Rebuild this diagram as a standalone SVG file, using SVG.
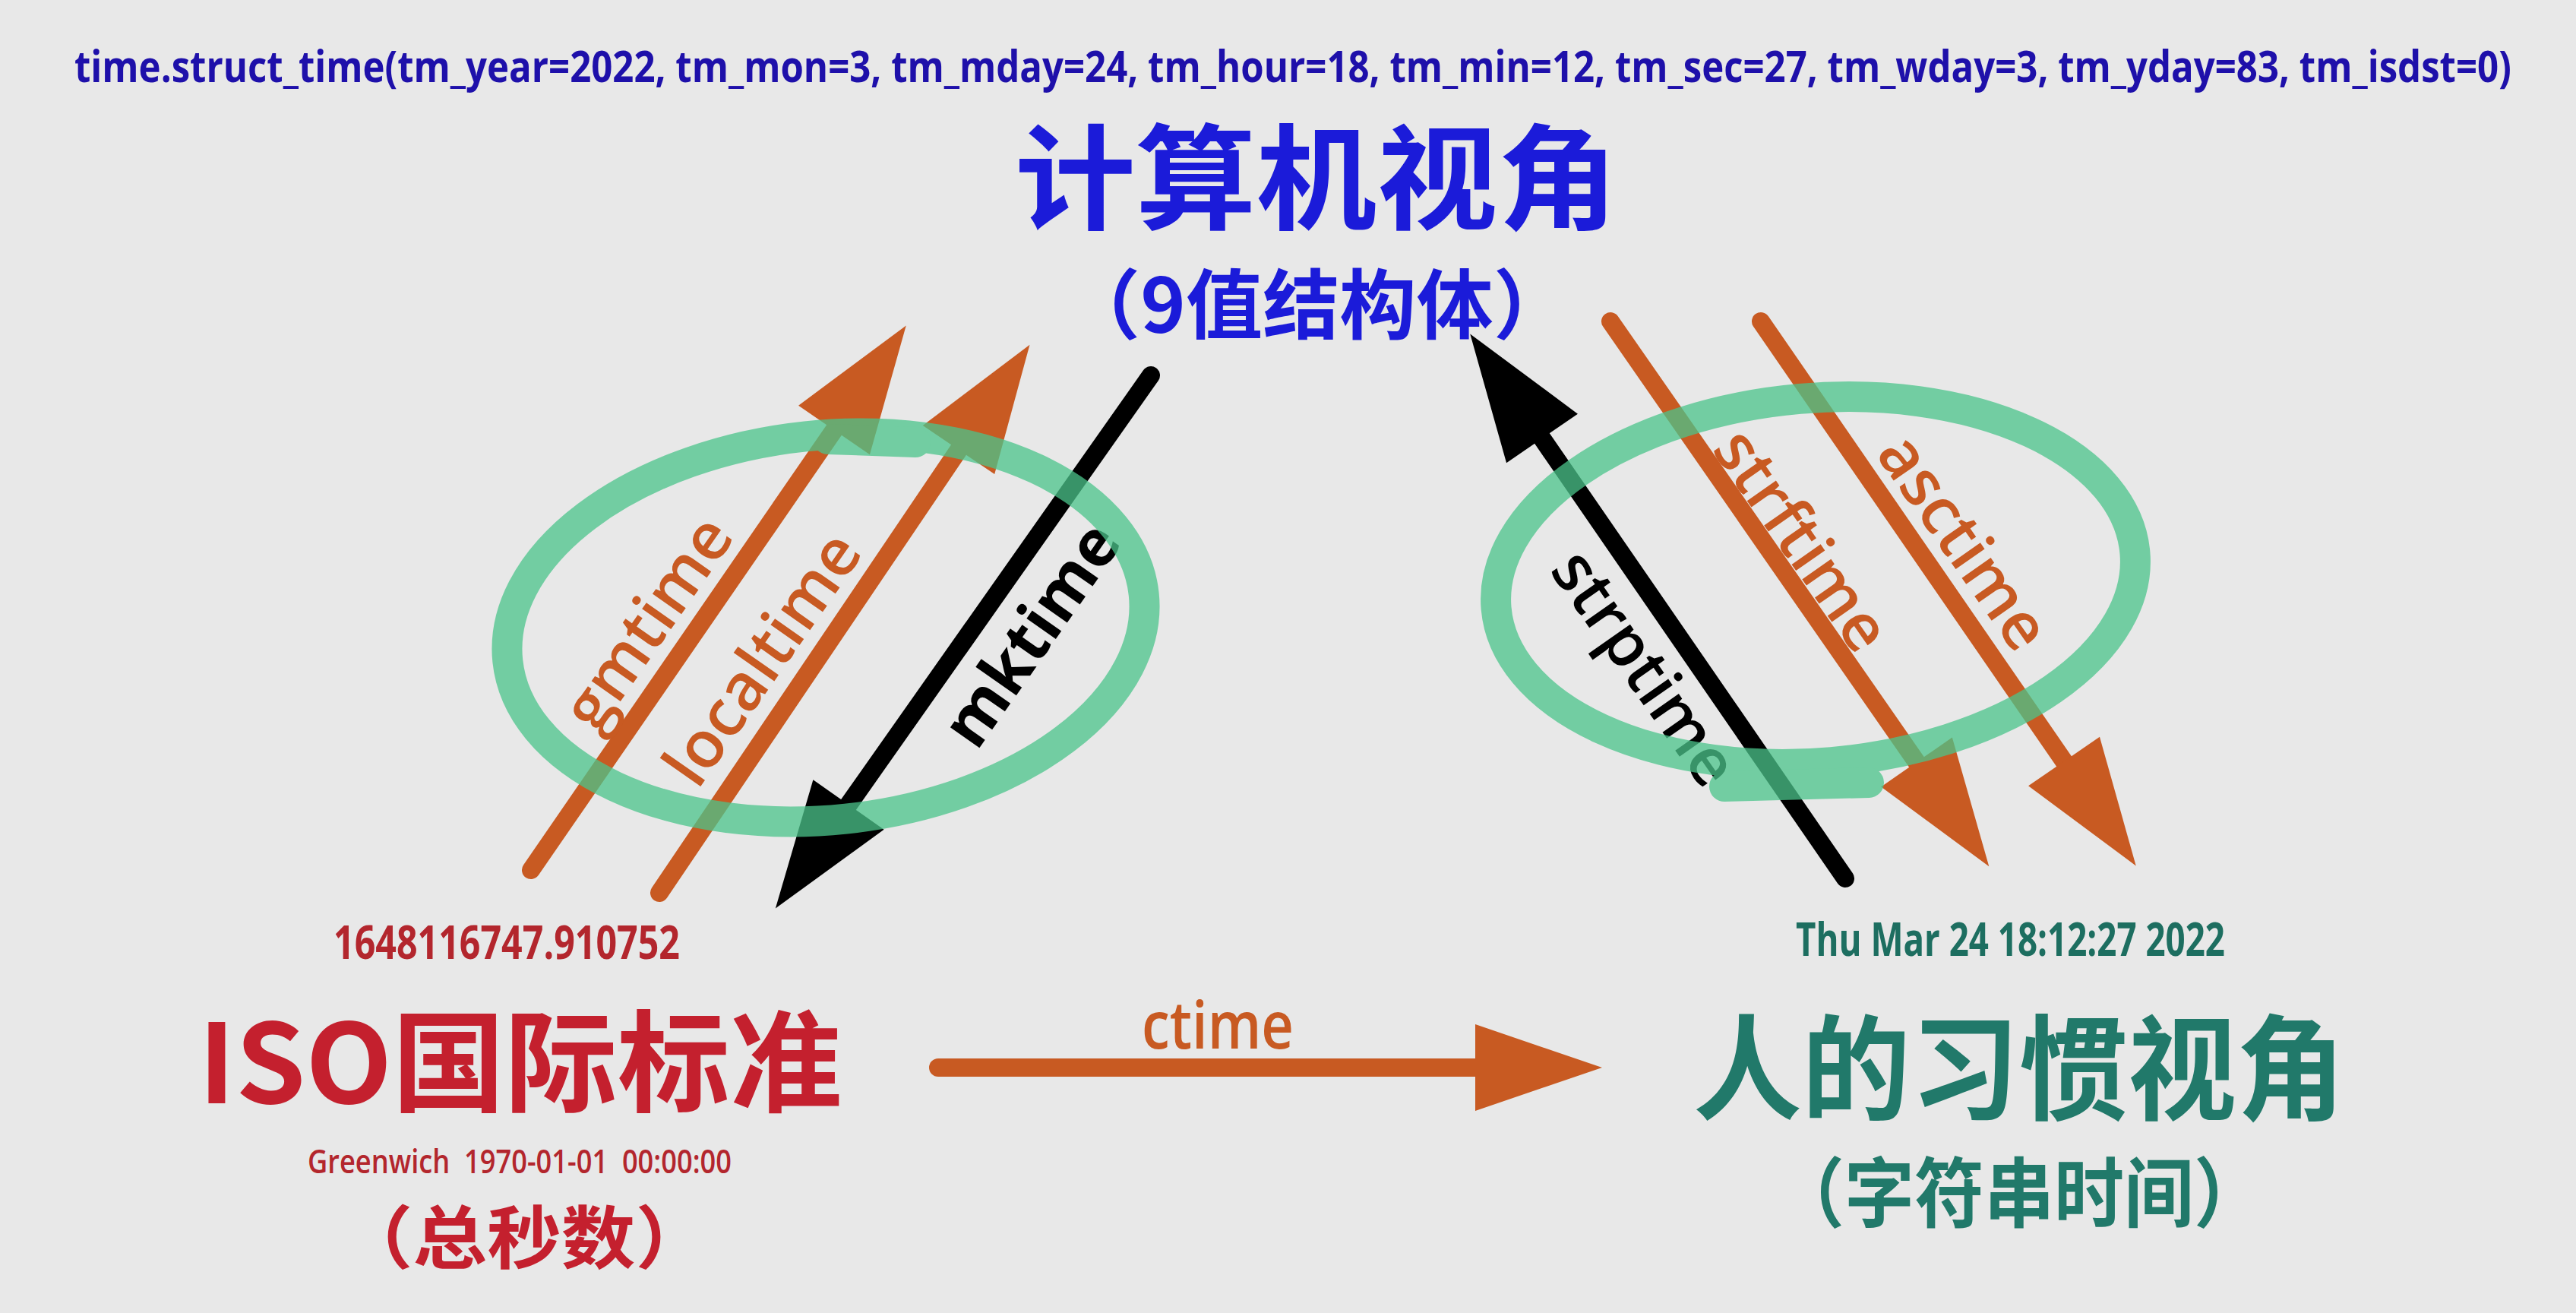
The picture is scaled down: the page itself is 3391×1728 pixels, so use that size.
<svg xmlns="http://www.w3.org/2000/svg" width="3391" height="1728" viewBox="0 0 3391 1728">
<style>
.lbl{font-family:"Open Sans","Liberation Sans",sans-serif;font-weight:600;}
.bold{font-family:"Open Sans","Liberation Sans",sans-serif;font-weight:700;}
.cjk{font-family:"Noto Sans CJK SC","Noto Sans",sans-serif;font-weight:700;}
.orange{fill:#c85a22;}
.shaftO{stroke:#c85a22;stroke-width:24;stroke-linecap:round;fill:none;}
.shaftK{stroke:#000;stroke-width:24;stroke-linecap:round;fill:none;}
.ring{fill:none;stroke:#4bc58b;stroke-width:40;stroke-linecap:round;}
</style>
<defs>
<marker id="headO" markerUnits="userSpaceOnUse" viewBox="0 0 170 114" markerWidth="170" markerHeight="114" refX="0" refY="57" orient="auto" overflow="visible">
<path d="M0,0 L167,57 L0,114 Z" fill="#c85a22"/>
</marker>
<marker id="headK" markerUnits="userSpaceOnUse" viewBox="0 0 170 114" markerWidth="170" markerHeight="114" refX="0" refY="57" orient="auto" overflow="visible">
<path d="M0,0 L167,57 L0,114 Z" fill="#000"/>
</marker>
</defs>
<rect x="0" y="0" width="3391" height="1728" fill="#e8e8e8"/>

<g id="title-struct" transform="translate(98,108) scale(0.82,1)">
<text class="bold" x="0" y="0" font-size="58" fill="#1e10aa" textLength="3912" lengthAdjust="spacingAndGlyphs">time.struct_time(tm_year=2022, tm_mon=3, tm_mday=24, tm_hour=18, tm_min=12, tm_sec=27, tm_wday=3, tm_yday=83, tm_isdst=0)</text>
</g>

<g id="node-computer">
<text class="cjk" x="1336" y="290" font-size="150" fill="#1b1bd9" textLength="794" lengthAdjust="spacingAndGlyphs">计算机视角</text>
<text class="cjk" x="1400" y="438" font-size="100" fill="#1b1bd9" textLength="667" lengthAdjust="spacingAndGlyphs">（9值结构体）</text>
</g>

<g id="node-iso">
<text class="bold" x="439" y="1262" font-size="60" fill="#b3262d" textLength="456" lengthAdjust="spacingAndGlyphs">1648116747.910752</text>
<text class="cjk" x="261" y="1452" font-size="145" fill="#c4202e" textLength="848" lengthAdjust="spacingAndGlyphs">ISO国际标准</text>
<text class="lbl" x="405" y="1544" font-size="44" fill="#b3262d" textLength="558" lengthAdjust="spacingAndGlyphs" xml:space="preserve">Greenwich  1970-01-01  00:00:00</text>
<text class="cjk" x="446" y="1662" font-size="90" fill="#c4202e" textLength="488" lengthAdjust="spacingAndGlyphs">（总秒数）</text>
</g>

<g id="node-human">
<text class="bold" x="2364" y="1258" font-size="60" fill="#1d6e60" textLength="565" lengthAdjust="spacingAndGlyphs">Thu Mar 24 18:12:27 2022</text>
<text class="cjk" x="2229" y="1462" font-size="150" fill="#21796a" textLength="858" lengthAdjust="spacingAndGlyphs">人的习惯视角</text>
<text class="cjk" x="2336" y="1607" font-size="100" fill="#21796a" textLength="644" lengthAdjust="spacingAndGlyphs">（字符串时间）</text>
</g>

<g id="connectors">
<line class="shaftO" x1="699" y1="1145" x2="1098" y2="566" marker-end="url(#headO)"/>
<line class="shaftO" x1="868" y1="1175" x2="1262" y2="592" marker-end="url(#headO)"/>
<line class="shaftK" x1="1515" y1="494" x2="1117" y2="1059" marker-end="url(#headK)"/>
<line class="shaftK" x1="2429" y1="1156" x2="2030" y2="577" marker-end="url(#headK)"/>
<line class="shaftO" x1="2120" y1="423" x2="2523" y2="1003" marker-end="url(#headO)"/>
<line class="shaftO" x1="2318" y1="423" x2="2717" y2="1002" marker-end="url(#headO)"/>
<line class="shaftO" x1="1235" y1="1405" x2="1942" y2="1405" marker-end="url(#headO)"/>

<text class="lbl orange" font-size="86" text-anchor="middle" transform="translate(877,837) rotate(-55)">gmtime</text>
<text class="lbl orange" font-size="86" text-anchor="middle" transform="translate(1028,884) rotate(-55)">localtime</text>
<text class="bold" font-size="86" fill="#000" text-anchor="middle" transform="translate(1382,852) rotate(-55)">mktime</text>
<text class="lbl" font-size="86" fill="#000" text-anchor="middle" transform="translate(2141,896) rotate(55)">strptime</text>
<text class="lbl orange" font-size="86" text-anchor="middle" transform="translate(2348,728) rotate(55)">strftime</text>
<text class="lbl orange" font-size="86" text-anchor="middle" transform="translate(2561,730) rotate(55)">asctime</text>
<text class="lbl orange" x="1603" y="1380" font-size="86" text-anchor="middle" textLength="200" lengthAdjust="spacingAndGlyphs">ctime</text>
</g>

<g id="rings" opacity="0.75">
<ellipse class="ring" cx="1087" cy="826" rx="421" ry="253" transform="rotate(-6 1087 826)"/>
<line class="ring" x1="1090" y1="578" x2="1205" y2="582"/>
<ellipse class="ring" cx="2390" cy="764" rx="422" ry="240" transform="rotate(-5 2390 764)"/>
<line class="ring" x1="2270" y1="1035" x2="2460" y2="1030"/>
</g>
</svg>
